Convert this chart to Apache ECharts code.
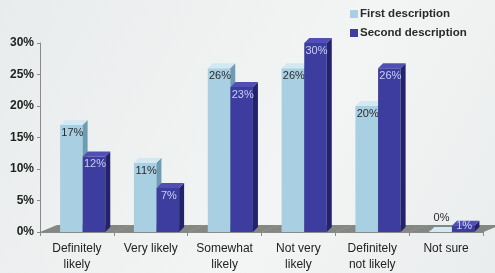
<!DOCTYPE html>
<html>
<head>
<meta charset="utf-8">
<script src="https://cdn.jsdelivr.net/npm/echarts@6/dist/echarts.min.js"></script>
<style>
  html, body { margin: 0; padding: 0; }
  #chart { width: 495px; height: 273px; }
</style>
</head>
<body>
<div id="chart"></div>
<script>
// 資料
var categories = ['Definitely\nlikely', 'Very likely', 'Somewhat\nlikely', 'Not very\nlikely', 'Definitely\nnot likely', 'Not sure'];
var firstValues = [17, 11, 26, 26, 20, 0];
var secondValues = [12, 7, 23, 30, 26, 1];
var seriesNames = ['First description', 'Second description'];

var palette = [
    { front: '#a9cfe2', side: '#6e9db3', top: '#d2e8f2', label: '#2a2a2a' },
    { front: '#3c3d9e', side: '#22236b', top: '#5050b4', label: '#c9d0f2' }
];

var DX = 5, DY = -5;

// 3D 柱子
function barRenderer(idx) {
    return function (params, api) {
        var cat = api.value(0);
        var val = api.value(1);
        var base = api.coord([cat, 0]);
        var top = api.coord([cat, val]);
        var band = api.size([1, 0])[0];
        var w = band * 0.305;
        var x0 = base[0] - band / 2 + band * (0.272 + idx * 0.307);
        var c = palette[idx];
        var y0 = top[1], y1 = base[1];
        var labelY = val === 0 ? y0 - 14 : Math.min(y0 + 8, y1 - 6);
        return {
            type: 'group',
            children: [
                {
                    type: 'rect',
                    shape: { x: x0, y: y0 - (val === 0 ? 1.5 : 0), width: w, height: Math.max(y1 - y0, 1.5) },
                    style: { fill: c.front }
                },
                {
                    type: 'polygon',
                    shape: { points: [[x0 + w, y0], [x0 + w + DX, y0 + DY], [x0 + w + DX, y1 + DY], [x0 + w, y1]] },
                    style: { fill: c.side }
                },
                {
                    type: 'polygon',
                    shape: { points: [[x0, y0], [x0 + DX, y0 + DY], [x0 + w + DX, y0 + DY], [x0 + w, y0]] },
                    style: { fill: c.top }
                },
                {
                    type: 'text',
                    style: {
                        text: val + '%',
                        x: x0 + w / 2 + 1,
                        y: labelY,
                        align: 'center',
                        verticalAlign: 'middle',
                        fill: c.label,
                        font: '11px "Liberation Sans", Arial, sans-serif'
                    }
                }
            ]
        };
    };
}

// 地板
function floorRenderer(params, api) {
    var cat = api.value(0);
    var base = api.coord([cat, 0]);
    var band = api.size([1, 0])[0];
    var x0 = base[0] - band / 2, x1 = base[0] + band / 2 + 0.5;
    var y = base[1];
    return {
        type: 'polygon',
        shape: { points: [[x0, y], [x1, y], [x1 + 17, y - 7], [x0 + 17, y - 7]] },
        style: { fill: '#858783' }
    };
}

var chart = echarts.init(document.getElementById('chart'));

var option = {
    animation: false,
    backgroundColor: {
        type: 'linear', x: 0, y: 0, x2: 1, y2: 1,
        colorStops: [
            { offset: 0, color: '#e9ecec' },
            { offset: 0.6, color: '#f3f5f5' },
            { offset: 1, color: '#eaeded' }
        ]
    },
    grid: { left: 40, right: 12, top: 43, bottom: 41 },
    legend: {
        data: seriesNames,
        orient: 'vertical',
        left: 345,
        top: 3,
        itemGap: 7,
        itemWidth: 8,
        itemHeight: 8,
        icon: 'rect',
        textStyle: {
            fontSize: 11.5,
            fontWeight: 'bold',
            color: '#2a2a2a',
            padding: [0, 0, 0, -3],
            fontFamily: '"Liberation Sans", Arial, sans-serif'
        }
    },
    xAxis: {
        type: 'category',
        data: categories,
        axisLine: { show: true, lineStyle: { color: '#8a8a8a' } },
        axisTick: { show: true, length: 4, lineStyle: { color: '#8a8a8a' } },
        axisLabel: {
            interval: 0,
            margin: 9,
            fontSize: 12,
            lineHeight: 16,
            color: '#222',
            fontFamily: '"Liberation Sans", Arial, sans-serif'
        }
    },
    yAxis: {
        type: 'value',
        min: 0,
        max: 30,
        interval: 5,
        splitLine: { show: false },
        axisLine: { show: true, lineStyle: { color: '#8a8a8a' } },
        axisTick: { show: true, length: 3, lineStyle: { color: '#8a8a8a' } },
        axisLabel: {
            formatter: '{value}%',
            margin: 6,
            fontSize: 12,
            fontWeight: 'bold',
            color: '#222',
            fontFamily: '"Liberation Sans", Arial, sans-serif'
        }
    },
    series: [
        {
            name: 'floor',
            type: 'custom',
            renderItem: floorRenderer,
            data: categories.map(function (c, i) { return [i, 0]; }),
            z: 1,
            silent: true
        },
        {
            name: seriesNames[0],
            type: 'custom',
            renderItem: barRenderer(0),
            itemStyle: { color: palette[0].front },
            data: firstValues.map(function (v, i) { return [i, v]; }),
            z: 2
        },
        {
            name: seriesNames[1],
            type: 'custom',
            renderItem: barRenderer(1),
            itemStyle: { color: palette[1].front },
            data: secondValues.map(function (v, i) { return [i, v]; }),
            z: 3
        }
    ]
};

chart.setOption(option);
</script>
</body>
</html>
